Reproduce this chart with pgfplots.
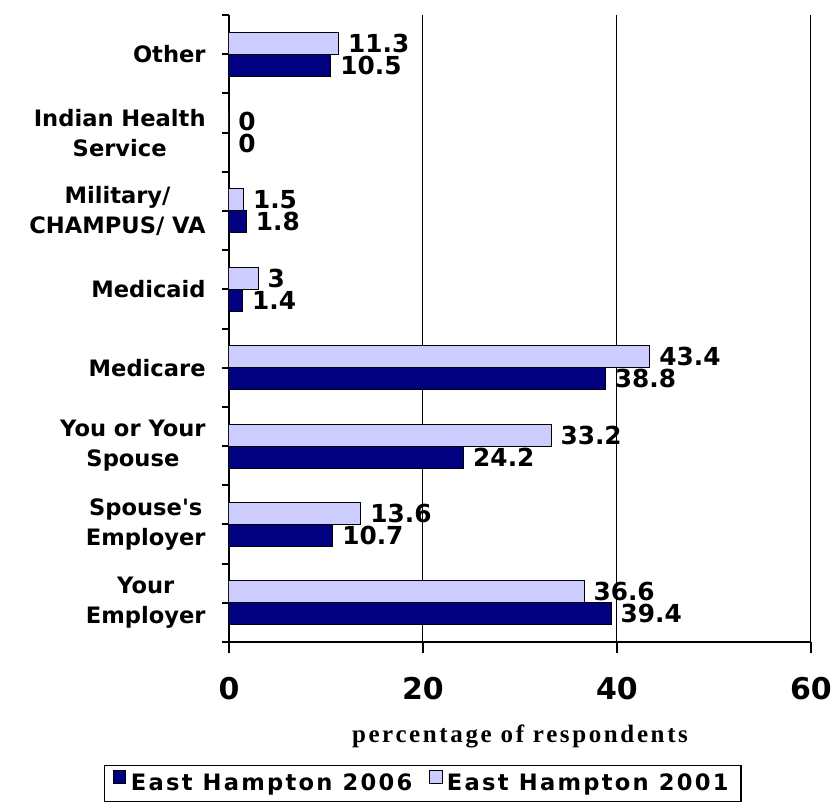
\documentclass[border=0pt]{standalone}
\usepackage{fontspec}
\setmainfont{DejaVu Sans}
\newfontfamily\serifx[LetterSpace=10.5]{Liberation Serif}
\newfontfamily\legfont[LetterSpace=10]{DejaVu Sans}
\usepackage{pgfplots}
\pgfplotsset{compat=1.18}
\definecolor{navy}{HTML}{000080}
\definecolor{lav}{HTML}{CCCCFF}
\begin{document}
\begin{tikzpicture}
\useasboundingbox (-114.5pt,-81pt) rectangle (301pt,321pt);
\begin{axis}[
  at={(0,0)}, anchor=south west,
  scale only axis, width=291pt, height=313.5pt,
  xbar, bar width=11pt,
  xmin=0, xmax=60, ymin=-0.5, ymax=7.5,
  axis x line*=bottom, axis y line*=left,
  axis line style={line width=1pt, -},
  /pgf/number format/assume math mode=true,
  xtick={0,20,40,60},
  xmajorgrids, grid style={black, line width=0.5pt},
  tick align=outside,
  major tick length=5.5pt,
  xtick style={black, line width=1pt},
  ytick={-0.5,0.5,...,7.5},
  yticklabels={},
  ytick style={black, line width=1pt, /pgfplots/major tick length=3.5pt},
  extra y ticks={0,1,2,3,4,5,6,7},
  extra y tick labels={{Your\\Employer},{Spouse\textquotesingle s\\Employer},{You or Your\\Spouse},Medicare,Medicaid,{Military/\\CHAMPUS/ VA},{Indian Health\\Service},Other},
  extra y tick style={major tick length=0pt, ymajorgrids=false},
  yticklabel style={font=\fontsize{11.3}{15}\selectfont\bfseries, align=center, anchor=east, inner xsep=0pt, xshift=-11.5pt},
  xticklabel style={font=\fontsize{15}{18}\selectfont\bfseries, anchor=north, inner ysep=0pt, yshift=-12pt},
  xlabel={percentage of respondents},
  xlabel style={font=\fontsize{12.5}{14}\selectfont\serifx\bfseries, anchor=base, at={(axis description cs:0.5,0)}, yshift=-50pt},
  nodes near coords,
  nodes near coords align={horizontal},
  every node near coord/.append style={font=\fontsize{12.4}{14}\selectfont\bfseries, black, inner xsep=4.5pt},
  legend columns=2,
  legend style={at={(0.333,-0.196)}, anchor=north, draw=black, line width=0.8pt,
    font=\fontsize{11.3}{13}\selectfont\legfont\bfseries, inner xsep=4pt, inner ysep=2pt,
    nodes={inner xsep=2.2pt},
    /tikz/every even column/.append style={column sep=6pt}},
  legend image code/.code={\draw[#1, draw=black, line width=0.5pt] (0pt,0pt) rectangle (6.4pt,6.4pt);},
]
\addplot[fill=navy, draw=black, line width=0.5pt, bar shift=-5.5pt] coordinates {
  (39.4,0) (10.7,1) (24.2,2) (38.8,3) (1.4,4) (1.8,5) (0,6) (10.5,7)};
\addplot[fill=lav, draw=black, line width=0.5pt, bar shift=5.5pt] coordinates {
  (36.6,0) (13.6,1) (33.2,2) (43.4,3) (3,4) (1.5,5) (0,6) (11.3,7)};
\legend{East Hampton 2006, East Hampton 2001}
\end{axis}
\end{tikzpicture}
\end{document}
